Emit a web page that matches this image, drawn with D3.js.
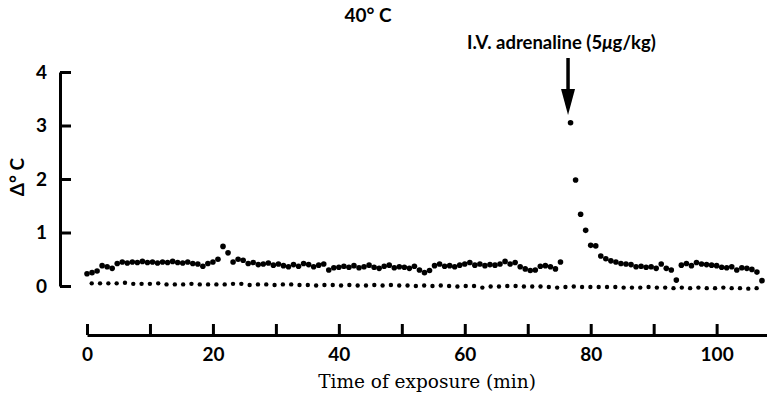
<!DOCTYPE html>
<html>
<head>
<meta charset="utf-8">
<script src="https://cdn.jsdelivr.net/npm/d3@7"></script>
<style>
  body { margin: 0; background: #fff; }
  .axis path, .axis line { stroke: #000; stroke-width: 3; }
  .axis text { font-family: Lato, "Open Sans", sans-serif; font-weight: 700; font-size: 19px; fill: #000; }
</style>
</head>
<body>
<div id="chart"></div>
<script>
// upper series: rectal temp change, sampled every 0.8 min (null = no reading)
var upperStep = 0.8;
var upperValues = [
  0.23, 0.25, 0.28, 0.38, 0.36, 0.33, 0.42, 0.45, 0.43, 0.45,
  0.44, 0.46, 0.44, 0.45, 0.43, 0.45, 0.44, 0.46, 0.44, 0.43,
  0.45, 0.42, 0.41, 0.37, 0.42, 0.45, 0.50, 0.74, 0.62, 0.45,
  0.50, 0.48, 0.42, 0.44, 0.40, 0.41, 0.43, 0.39, 0.41, 0.38,
  0.36, 0.40, 0.37, 0.42, 0.40, 0.36, 0.39, 0.41, 0.30, 0.34,
  0.35, 0.37, 0.35, 0.38, 0.34, 0.36, 0.39, 0.35, 0.33, 0.37,
  0.39, 0.34, 0.36, 0.35, 0.33, 0.37, 0.30, 0.25, 0.29, 0.38,
  0.41, 0.37, 0.38, 0.36, 0.39, 0.41, 0.44, 0.39, 0.41, 0.38,
  0.40, 0.39, 0.41, 0.46, 0.41, 0.44, 0.36, 0.32, 0.29, 0.30,
  0.37, 0.38, 0.36, 0.32, 0.45, null, 3.05, 1.98, 1.34, 1.04,
  0.76, 0.75, 0.56, 0.51, 0.47, 0.45, 0.42, 0.41, 0.40, 0.36,
  0.37, 0.35, 0.36, 0.33, 0.41, 0.33, 0.30, 0.11, 0.39, 0.42,
  0.38, 0.44, 0.41, 0.40, 0.39, 0.38, 0.35, 0.34, 0.36, 0.30,
  0.34, 0.33, 0.31, 0.26, 0.10
];

// lower series: sampled every 1.32 min starting at 0.75 min
var lowerStart = 0.75,
    lowerStep = 1.32;
var lowerValues = [
  0.05, 0.05, 0.05, 0.05, 0.06, 0.04, 0.04, 0.04, 0.05, 0.03,
  0.03, 0.03, 0.04, 0.03, 0.03, 0.03, 0.03, 0.04, 0.04, 0.02,
  0.03, 0.03, 0.02, 0.03, 0.03, 0.02, 0.02, 0.01, 0.02, 0.02,
  0.01, 0.02, 0.01, 0.01, 0.02, 0.01, 0.02, 0.01, 0.01, 0.00,
  0.01, 0.00, 0.01, 0.00, -0.01, 0.00, 0.00, -0.03, -0.01, -0.01,
  0.00, 0.00, -0.01, -0.01, -0.01, -0.02, -0.03, -0.02, -0.01, -0.02,
  -0.02, -0.02, -0.02, -0.02, -0.03, -0.03, -0.03, -0.02, -0.03, -0.03,
  -0.04, -0.03, -0.04, -0.03, -0.04, -0.04, -0.03, -0.04, -0.04, -0.05,
  -0.04
];

var yTicks = [0, 1, 2, 3, 4];
var xTicks = [0, 10, 20, 30, 40, 50, 60, 70, 80, 90, 100];
var xLabelTicks = [0, 20, 40, 60, 80, 100];
var injectionTime = 76.4;

var width = 767,
    height = 400;

var upper = upperValues.map(function (v, i) { return { t: i * upperStep, v: v }; })
    .filter(function (d) { return d.v !== null; });
var lower = lowerValues.map(function (v, i) { return { t: lowerStart + i * lowerStep, v: v }; });

var xScale = d3.scaleLinear().domain([0, 108]).range([87, 767]);
var yScale = d3.scaleLinear().domain([0, 4]).range([286, 72]);

var svg = d3.select('#chart').append('svg')
    .attr('width', width)
    .attr('height', height);

// y axis, ticks pointing inwards
var yAxis = d3.axisLeft(yScale)
    .tickValues(yTicks)
    .tickSizeInner(-11)
    .tickSizeOuter(0)
    .tickPadding(13)
    .tickFormat(d3.format('d'));

svg.append('g')
    .attr('class', 'axis y')
    .attr('transform', 'translate(60,0)')
    .call(yAxis);

// x axis sits apart, below the plot
var xAxis = d3.axisBottom(xScale)
    .tickValues(xTicks)
    .tickSizeInner(-11)
    .tickSizeOuter(0)
    .tickPadding(13)
    .tickFormat(function (d) { return xLabelTicks.includes(d) ? d : ''; });

svg.append('g')
    .attr('class', 'axis x')
    .attr('transform', 'translate(0,335)')
    .call(xAxis);

// titles
svg.append('text')
    .attr('x', 368)
    .attr('y', 22)
    .attr('text-anchor', 'middle')
    .style('font-family', 'Lato, sans-serif')
    .style('font-weight', 700)
    .style('font-size', '19px')
    .text('40° C');

svg.append('text')
    .attr('transform', 'translate(24,177) rotate(-90)')
    .attr('text-anchor', 'middle')
    .style('font-family', 'Lato, sans-serif')
    .style('font-weight', 700)
    .style('font-size', '19px')
    .text('Δ° C');

svg.append('text')
    .attr('x', 427)
    .attr('y', 388)
    .attr('text-anchor', 'middle')
    .style('font-family', '"DejaVu Serif", serif')
    .style('font-size', '18.5px')
    .text('Time of exposure (min)');

// injection annotation + arrow
var note = svg.append('text')
    .attr('x', 467)
    .attr('y', 49)
    .style('font-family', 'Lato, sans-serif')
    .style('font-weight', 700)
    .style('font-size', '18.5px');
note.append('tspan').text('I.V. adrenaline (5');
note.append('tspan').style('font-style', 'italic').text('μ');
note.append('tspan').text('g/kg)');

var ax = xScale(injectionTime);
svg.append('line')
    .attr('x1', ax).attr('x2', ax)
    .attr('y1', 58).attr('y2', 93)
    .attr('stroke', '#000')
    .attr('stroke-width', 3.5);
svg.append('path')
    .attr('d', 'M' + (ax - 7) + ',89L' + (ax + 7) + ',89L' + ax + ',115Z')
    .attr('fill', '#000');

// points
svg.append('g').selectAll('circle')
    .data(upper)
    .enter().append('circle')
    .attr('cx', function (d) { return xScale(d.t); })
    .attr('cy', function (d) { return yScale(d.v); })
    .attr('r', 2.8)
    .attr('fill', '#000');

svg.append('g').selectAll('circle')
    .data(lower)
    .enter().append('circle')
    .attr('cx', function (d) { return xScale(d.t); })
    .attr('cy', function (d) { return yScale(d.v); })
    .attr('r', 2.2)
    .attr('fill', '#000');
</script>
</body>
</html>
